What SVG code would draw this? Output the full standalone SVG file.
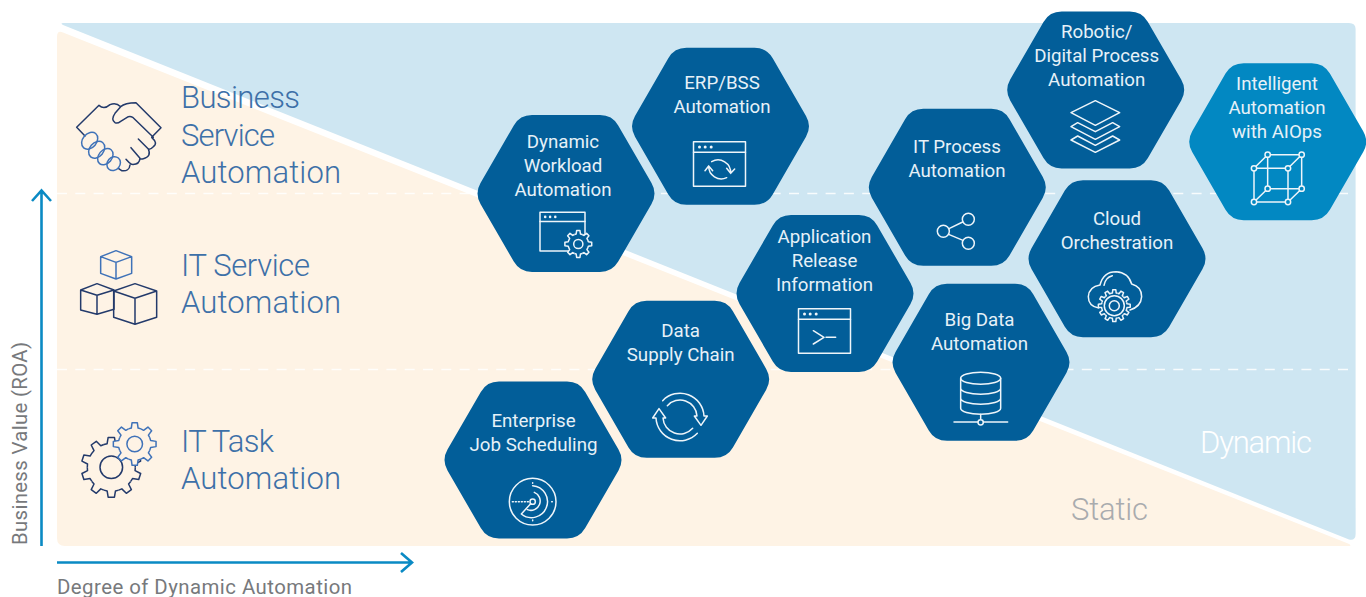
<svg xmlns="http://www.w3.org/2000/svg" width="1366" height="597" viewBox="0 0 1366 597">
<style>
.hl{font-family:Roboto,"Liberation Sans",sans-serif;font-weight:300;font-size:31px;fill:#3d70a8}
.zone{font-family:Roboto,"Liberation Sans",sans-serif;font-weight:300;font-size:31px}
.t{font-family:Roboto,"Liberation Sans",sans-serif;font-size:18.7px;fill:#e6f1f8;text-anchor:middle}
.ax{font-family:Roboto,"Liberation Sans",sans-serif;font-size:20.4px;fill:#77797c}
.hex{fill:#025e99}
.hex2{fill:#0288c2}
.ic{fill:none;stroke:#eef5fa;stroke-width:4.5;stroke-linecap:round;stroke-linejoin:round}
.icd{fill:none;stroke:#233a6b;stroke-width:4.5;stroke-linecap:round;stroke-linejoin:round}
.icb{fill:none;stroke:#3f72b8;stroke-width:4.5;stroke-linecap:round;stroke-linejoin:round}
.dash{stroke:#fff;stroke-width:1.3;stroke-dasharray:10 8.3;fill:none;opacity:.85}
.axl{fill:none;stroke:#0a8ac4;stroke-width:2.6}
</style>
<defs>
<path id="hx" d="M-85.5-10.4L-52.2-68.1Q-46.2-78.5-34-78.5H34Q46.2-78.5 52.2-68.1L85.5-10.4Q91.5 0 85.5 10.4L52.2 68.1Q46.2 78.5 34 78.5H-34Q-46.2 78.5-52.2 68.1L-85.5 10.4Q-91.5 0-85.5-10.4Z"/>
<path id="t8" vector-effect="non-scaling-stroke" d="M-2.91-7.02L-1.58-7.43L-1.22-9.93H1.22L1.58-7.43L2.91-7.02"/>
<path id="t10" vector-effect="non-scaling-stroke" d="M-2.47-7.61L-1.39-7.88L-1.05-9.95H1.05L1.39-7.88L2.47-7.61"/>
<path id="t12" vector-effect="non-scaling-stroke" d="M-2.07-7.73L-1.18-7.91L-.96-9.95H.96L1.18-7.91L2.07-7.73"/>
<g id="g8"><use href="#t8"/><use href="#t8" transform="rotate(45)"/><use href="#t8" transform="rotate(90)"/><use href="#t8" transform="rotate(135)"/><use href="#t8" transform="rotate(180)"/><use href="#t8" transform="rotate(225)"/><use href="#t8" transform="rotate(270)"/><use href="#t8" transform="rotate(315)"/></g>
<g id="g10"><use href="#t10"/><use href="#t10" transform="rotate(36)"/><use href="#t10" transform="rotate(72)"/><use href="#t10" transform="rotate(108)"/><use href="#t10" transform="rotate(144)"/><use href="#t10" transform="rotate(180)"/><use href="#t10" transform="rotate(216)"/><use href="#t10" transform="rotate(252)"/><use href="#t10" transform="rotate(288)"/><use href="#t10" transform="rotate(324)"/></g>
<g id="g12"><use href="#t12"/><use href="#t12" transform="rotate(30)"/><use href="#t12" transform="rotate(60)"/><use href="#t12" transform="rotate(90)"/><use href="#t12" transform="rotate(120)"/><use href="#t12" transform="rotate(150)"/><use href="#t12" transform="rotate(180)"/><use href="#t12" transform="rotate(210)"/><use href="#t12" transform="rotate(240)"/><use href="#t12" transform="rotate(270)"/><use href="#t12" transform="rotate(300)"/><use href="#t12" transform="rotate(330)"/></g>
<g id="win"><rect x="0" y="0" width="156" height="134"/><path d="M0 32H156"/><circle cx="18" cy="16" r="4.5" fill="#eef5fa" stroke="none"/><circle cx="35" cy="16" r="4.5" fill="#eef5fa" stroke="none"/><circle cx="53" cy="16" r="4.5" fill="#eef5fa" stroke="none"/></g>
</defs>

<g id="background">
<path fill="#fef3e5" d="M57 37Q57 30 63 32.5L1348 543.5Q1353 546 1348 546H65Q57 546 57 538Z"/>
<path fill="#cee6f2" d="M63 23H1349Q1355.6 23 1355.6 29V534Q1355.6 541 1349 539.6L63 25Q60 23 63 23Z"/>
<path class="dash" d="M57 193.5H1355.6M57 369.5H1355.6"/>
</g>

<g id="connectors">
<path class="axl" d="M41.5 546V191M32 201L41.5 190.5L51 201"/>
<path class="axl" d="M57 562.5H411M401 553L412 562.5L401 572"/>
</g>

<g id="axis-labels">
<text class="ax" x="57" y="594" textLength="295">Degree of Dynamic Automation</text>
<text class="ax" transform="translate(26.5 545) rotate(-90)" textLength="203">Business Value (ROA)</text>
</g>

<g id="level-business">
<text class="hl" x="181" y="107.7" textLength="119">Business</text>
<text class="hl" x="181" y="145.5" textLength="94">Service</text>
<text class="hl" x="181" y="182.7" textLength="160">Automation</text>
<g transform="scale(.33333)">
<path class="icd" d="M255 408L230 382L297 316Q312 330 330 314Q348 306 362 320Q375 308 408 308L483 383L455 412Q475 430 460 440Q450 450 445 447L415 417M445 447Q455 470 430 476Q422 478 420 475L393 443M420 475Q418 495 395 493Q388 490 378 478M390 495Q388 515 365 512L355 505M362 320L345 340Q332 358 345 368Q352 372 362 364L385 350Q392 348 398 352L460 412"/>
<g class="icb"><ellipse cx="269" cy="422" rx="28" ry="21" transform="rotate(-50 269 422)"/><ellipse cx="290" cy="449" rx="28" ry="21" transform="rotate(-50 290 449)"/><ellipse cx="316" cy="470" rx="27" ry="20" transform="rotate(-50 316 470)"/><ellipse cx="341" cy="491" rx="22" ry="19" transform="rotate(-50 341 491)"/></g>
</g>
</g>

<g id="level-service">
<text class="hl" x="181" y="275.8" textLength="129">IT Service</text>
<text class="hl" x="181" y="312.7" textLength="160">Automation</text>
<g transform="scale(.33333)">
<path class="icb" d="M348 752L395 770V820L348 837L302 820V770ZM302 770L348 787L395 770M348 787V837"/>
<path class="icd" d="M291 851L342 870V928L291 943L242 930V870ZM242 870L291 886L342 870M291 886V943"/>
<path class="icd" d="M405 851L470 873V952L405 973L341 952V873ZM341 873L405 895L470 873M405 895V973"/>
</g>
</g>

<g id="level-task">
<text class="hl" x="181" y="451.7" textLength="93">IT Task</text>
<text class="hl" x="181" y="489" textLength="160">Automation</text>
<g fill="none" stroke="#233a6b" stroke-width="1.5" stroke-linejoin="round" transform="translate(111.3 467.3) scale(3)"><use href="#g10"/></g>
<circle cx="111.3" cy="467.3" r="11.3" fill="none" stroke="#233a6b" stroke-width="1.5"/>
<circle cx="134.7" cy="444" r="16" fill="#fef3e5"/>
<g fill="#fef3e5" stroke="#3f72b8" stroke-width="1.5" stroke-linejoin="round" transform="translate(134.7 444) scale(2.15)"><use href="#g8"/></g>
<circle cx="134.7" cy="444" r="7.8" fill="none" stroke="#3f72b8" stroke-width="1.5"/>
</g>

<g id="node-enterprise">
<use href="#hx" class="hex" x="533" y="460"/>
<text class="t" x="533.5" y="426.7">Enterprise</text><text class="t" x="533.5" y="450.7">Job Scheduling</text>
<g transform="translate(440 290) scale(.33333)" class="ic">
<circle cx="278" cy="635" r="70"/><circle cx="278" cy="635" r="8"/>
<path d="M217 635H266" stroke-dasharray="3 6"/>
<path d="M278 578v2M278 690v2M335 635h2"/>
<path d="M278 587A48 48 0 1 1 244 672L272 641M283 607A28 28 0 1 1 262 659"/>
</g>
</g>

<g id="node-supply">
<use href="#hx" class="hex" x="680.7" y="379.3"/>
<text class="t" x="680.7" y="336.7">Data</text><text class="t" x="680.7" y="360.7">Supply Chain</text>
<g transform="translate(440 290) scale(.33333)" class="ic">
<path d="M668 332A72 72 0 0 1 792 378H802L783 406L763 378H771A51 51 0 0 0 682 347"/>
<path d="M772 430A72 72 0 0 1 648 384H638L657 356L677 384H669A51 51 0 0 0 758 415"/>
</g>
</g>

<g id="node-dynamic">
<use href="#hx" class="hex" x="566" y="193.5"/>
<text class="t" x="563" y="147.7">Dynamic</text><text class="t" x="563" y="171.7">Workload</text><text class="t" x="563" y="195.7">Automation</text>
<g transform="translate(540 212.3) scale(.2885)" class="ic" style="stroke-width:5.2"><use href="#win"/></g>
<g fill="#025e99" stroke="#eef5fa" stroke-width="1.5" stroke-linejoin="round" transform="translate(578.3 244) scale(1.35)"><circle r="7.6" stroke="none"/><use href="#g8"/></g>
<circle cx="578.3" cy="244" r="4.6" fill="none" stroke="#eef5fa" stroke-width="1.5"/>
</g>

<g id="node-erp">
<use href="#hx" class="hex" x="720.5" y="126.3"/>
<text class="t" x="722" y="89.3">ERP/BSS</text><text class="t" x="722" y="113.3">Automation</text>
<g transform="translate(693.5 141.7) scale(.33333)" class="ic"><use href="#win"/></g>
<g transform="translate(440 40) scale(.33333)" class="ic">
<path d="M815 365A38 38 0 0 1 872 400M860 385L872 400L884 387"/>
<path d="M806 378A38 38 0 0 0 860 413M795 392L806 378L818 392"/>
</g>
</g>

<g id="node-release">
<use href="#hx" class="hex" x="825" y="293.5"/>
<text class="t" x="824.5" y="243.3">Application</text><text class="t" x="824.5" y="267.3">Release</text><text class="t" x="824.5" y="291.3">Information</text>
<g transform="translate(798.5 308.7) scale(.33333)" class="ic"><use href="#win"/></g>
<g transform="translate(740 210) scale(.33333)" class="ic"><path d="M220 362L252 382L220 402M258 382H287"/></g>
</g>

<g id="node-bigdata">
<use href="#hx" class="hex" x="981" y="362.3"/>
<text class="t" x="979.5" y="326">Big Data</text><text class="t" x="979.5" y="350">Automation</text>
<g transform="translate(740 210) scale(.33333)" class="ic">
<ellipse cx="722" cy="505" rx="60" ry="18"/>
<path d="M662 505V595A60 18 0 0 0 782 595V505M662 535A60 18 0 0 0 782 535M662 565A60 18 0 0 0 782 565M722 612V628M642 636H714M730 636H803"/>
<circle cx="722" cy="637" r="8"/>
</g>
</g>

<g id="node-itprocess">
<use href="#hx" class="hex" x="957.3" y="187.3"/>
<text class="t" x="957" y="152.7">IT Process</text><text class="t" x="957" y="176.7">Automation</text>
<g transform="translate(860 100) scale(.33333)" class="ic">
<circle cx="250" cy="394" r="18"/><circle cx="325" cy="358" r="18"/><circle cx="325" cy="430" r="18"/>
<path d="M267 386L308 366M266 403L309 421"/>
</g>
</g>

<g id="node-cloud">
<use href="#hx" class="hex" x="1117" y="258.7"/>
<text class="t" x="1117" y="225">Cloud</text><text class="t" x="1117" y="249">Orchestration</text>
<g transform="translate(860 100) scale(.33333)" class="ic">
<path d="M716 624Q685 618 685 590Q687 560 720 555Q730 515 768 515Q805 517 815 552Q845 560 845 590Q843 620 810 630M732 556Q736 532 757 527"/>
</g>
<g fill="#025e99" stroke="#eef5fa" stroke-width="1.5" stroke-linejoin="round" transform="translate(1114.3 305.7) scale(1.6)"><use href="#g12"/></g>
<circle cx="1114.3" cy="305.7" r="10" fill="none" stroke="#eef5fa" stroke-width="1.5"/>
<circle cx="1114.3" cy="305.7" r="5" fill="none" stroke="#eef5fa" stroke-width="1.5"/>
</g>

<g id="node-robotic">
<use href="#hx" class="hex" x="1095.7" y="90"/>
<text class="t" x="1096.7" y="37.7">Robotic/</text><text class="t" x="1096.7" y="61.7">Digital Process</text><text class="t" x="1096.7" y="85.7">Automation</text>
<g transform="translate(1000 0) scale(.33333)" class="ic">
<path d="M286 302L359 338L286 376L213 338Z"/>
<path d="M233 368L213 380L286 418L359 380L338 368L286 395Z"/>
<path d="M233 408L213 420L286 457L359 420L338 408L286 436Z"/>
</g>
</g>

<g id="node-intelligent">
<use href="#hx" class="hex2" x="1277.7" y="141.7"/>
<text class="t" x="1277" y="90">Intelligent</text><text class="t" x="1277" y="114">Automation</text><text class="t" x="1277" y="138">with AIOps</text>
<g transform="translate(1000 0) scale(.33333)" class="ic">
<path d="M762 505H864V606H762ZM803 464H905V566H803ZM762 505L803 464M864 505L905 464M864 606L905 566M762 606L803 566"/>
<circle cx="762" cy="505" r="8" fill="#0288c2"/><circle cx="864" cy="505" r="8" fill="#0288c2"/><circle cx="762" cy="606" r="8" fill="#0288c2"/><circle cx="864" cy="606" r="8" fill="#0288c2"/><circle cx="803" cy="464" r="8" fill="#0288c2"/><circle cx="905" cy="464" r="8" fill="#0288c2"/><circle cx="803" cy="566" r="8" fill="#0288c2"/><circle cx="905" cy="566" r="8" fill="#0288c2"/>
</g>
</g>

<g id="zones">
<text class="zone" x="1071" y="520" fill="#a9abae" textLength="77">Static</text>
<text class="zone" x="1200" y="452.7" fill="#fff" textLength="112">Dynamic</text>
</g>
</svg>
